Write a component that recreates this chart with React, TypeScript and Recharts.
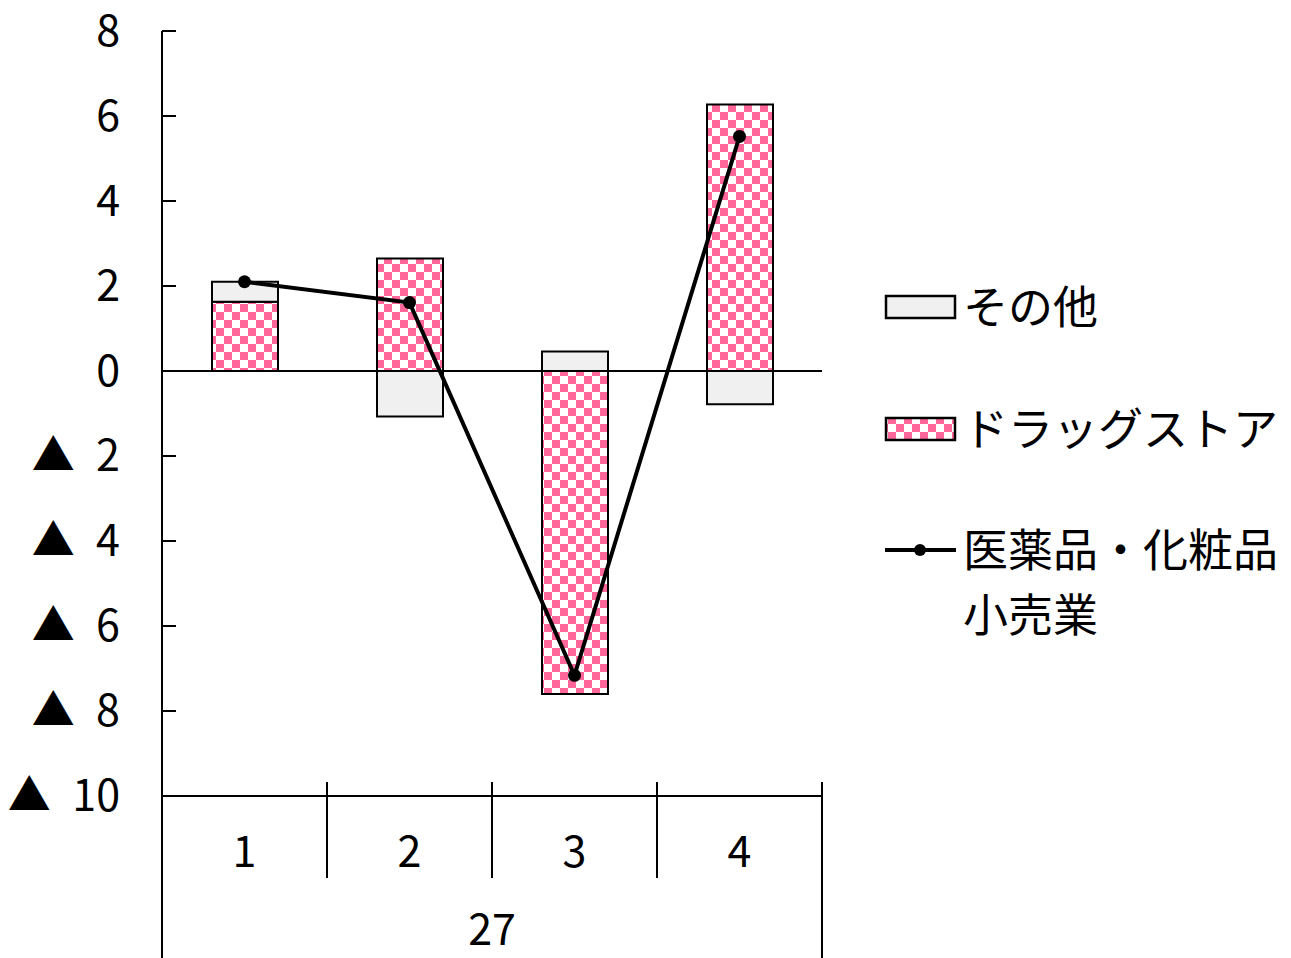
import React from "react";
import {
  ComposedChart,
  Bar,
  Line,
  XAxis,
  YAxis,
  ReferenceLine,
} from "recharts";

const categories = ["1", "2", "3", "4"];
const yearLabel = "27";
const drugstore = [1.63, 2.65, -7.6, 6.27];
const other = [0.47, -1.07, 0.46, -0.78];
const total = [2.1, 1.61, -7.16, 5.52];
const yTicks = [-10, -8, -6, -4, -2, 0, 2, 4, 6, 8];

const seriesNames = {
  other: "その他",
  drugstore: "ドラッグストア",
  total: ["医薬品・化粧品", "小売業"],
};

const data = categories.map((name, i) => ({
  name,
  drugstore: drugstore[i],
  other: other[i],
  total: total[i],
}));

const W = 1291;
const H = 958;
const Y_AXIS_W = 162;
const X_AXIS_H = 162;
const RIGHT = 469;
const TOP = 31;
const BAND = (W - Y_AXIS_W - RIGHT) / categories.length;

const FONT = "'Noto Sans CJK JP', 'Noto Sans', sans-serif";
const PINK = "#FF6699";
const GREY = "#F0F0F0";

// negative values are written with a leading triangle, Japanese style
function formatTick(v: number) {
  if (v < 0) return `▲\u2002${-v}`;
  return `${v}`;
}

function YTick(props: any) {
  const { x, y, payload } = props;
  const axisX = x + 42;
  return (
    <g>
      <line x1={axisX} x2={axisX + 14} y1={y} y2={y} stroke="#000" strokeWidth={2} />
      <text
        x={x}
        y={y}
        dy={-4}
        textAnchor="end"
        dominantBaseline="central"
        fontFamily={FONT}
        fontSize={43}
        fill="#000"
      >
        {formatTick(payload.value)}
      </text>
    </g>
  );
}

function XTick(props: any) {
  const { x, y, payload, index } = props;
  const left = x - BAND / 2;
  const right = x + BAND / 2;
  const last = index === categories.length - 1;
  return (
    <g>
      {index === 0 ? (
        <line x1={left} x2={left} y1={y} y2={H} stroke="#000" strokeWidth={2} />
      ) : (
        <line x1={left} x2={left} y1={y - 14} y2={y + 82} stroke="#000" strokeWidth={2} />
      )}
      {last && <line x1={right} x2={right} y1={y - 14} y2={H} stroke="#000" strokeWidth={2} />}
      <text
        x={x}
        y={y + 56}
        dy={-4}
        textAnchor="middle"
        dominantBaseline="central"
        fontFamily={FONT}
        fontSize={43}
        fill="#000"
      >
        {payload.value}
      </text>
      {index === 0 && (
        <text
          x={left + (BAND * categories.length) / 2}
          y={y + 134}
          dy={-4}
          textAnchor="middle"
          dominantBaseline="central"
          fontFamily={FONT}
          fontSize={43}
          fill="#000"
        >
          {yearLabel}
        </text>
      )}
    </g>
  );
}

function CheckerDefs({ id }: { id: string }) {
  return (
    <defs>
      <pattern id={id} width={16} height={16} patternUnits="userSpaceOnUse">
        <rect width={16} height={16} fill="#fff" />
        <rect width={8} height={8} fill={PINK} />
        <rect x={8} y={8} width={8} height={8} fill={PINK} />
      </pattern>
    </defs>
  );
}

function LegendBox() {
  const textStyle: React.CSSProperties = {
    position: "absolute",
    left: 963,
    fontFamily: FONT,
    fontSize: 45,
    lineHeight: "65px",
    whiteSpace: "nowrap",
    color: "#000",
  };
  return (
    <>
      <svg
        width={80}
        height={300}
        style={{ position: "absolute", left: 880, top: 280 }}
      >
        <CheckerDefs id="checkerLegend" />
        <rect x={6} y={16} width={69} height={22} fill={GREY} stroke="#000" strokeWidth={2.5} />
        <rect x={6} y={138} width={69} height={22} fill="url(#checkerLegend)" stroke="#000" strokeWidth={2.5} />
        <line x1={5} x2={76} y1={270} y2={270} stroke="#000" strokeWidth={4} />
        <circle cx={40} cy={270} r={6} fill="#000" />
      </svg>
      <div style={{ ...textStyle, top: 272 }}>{seriesNames.other}</div>
      <div style={{ ...textStyle, top: 394 }}>{seriesNames.drugstore}</div>
      <div style={{ ...textStyle, top: 515 }}>
        {seriesNames.total[0]}
        <br />
        {seriesNames.total[1]}
      </div>
    </>
  );
}

export default function App() {
  return (
    <div style={{ position: "absolute", left: 0, top: 0, width: W, height: H, background: "#fff" }}>
      <ComposedChart
        width={W}
        height={H}
        data={data}
        stackOffset="sign"
        margin={{ top: TOP, right: RIGHT, bottom: 0, left: 0 }}
        barSize={66}
      >
        <CheckerDefs id="checker" />
        <XAxis
          dataKey="name"
          height={X_AXIS_H}
          axisLine={{ stroke: "#000", strokeWidth: 2 }}
          tickLine={false}
          tickSize={0}
          tickMargin={0}
          tick={<XTick />}
          interval={0}
        />
        <YAxis
          width={Y_AXIS_W}
          domain={[-10, 8]}
          ticks={yTicks}
          allowDataOverflow
          axisLine={{ stroke: "#000", strokeWidth: 2 }}
          tickLine={false}
          tickSize={0}
          tickMargin={42}
          tick={<YTick />}
          interval={0}
        />
        <Bar
          dataKey="drugstore"
          stackId="s"
          fill="url(#checker)"
          stroke="#000"
          strokeWidth={2}
          isAnimationActive={false}
        />
        <Bar
          dataKey="other"
          stackId="s"
          fill={GREY}
          stroke="#000"
          strokeWidth={2}
          isAnimationActive={false}
        />
        <ReferenceLine y={0} stroke="#000" strokeWidth={2} />
        <Line
          dataKey="total"
          stroke="#000"
          strokeWidth={4}
          dot={{ r: 6.5, fill: "#000", stroke: "#000", strokeWidth: 0 }}
          activeDot={false}
          isAnimationActive={false}
        />
      </ComposedChart>
      <LegendBox />
    </div>
  );
}
